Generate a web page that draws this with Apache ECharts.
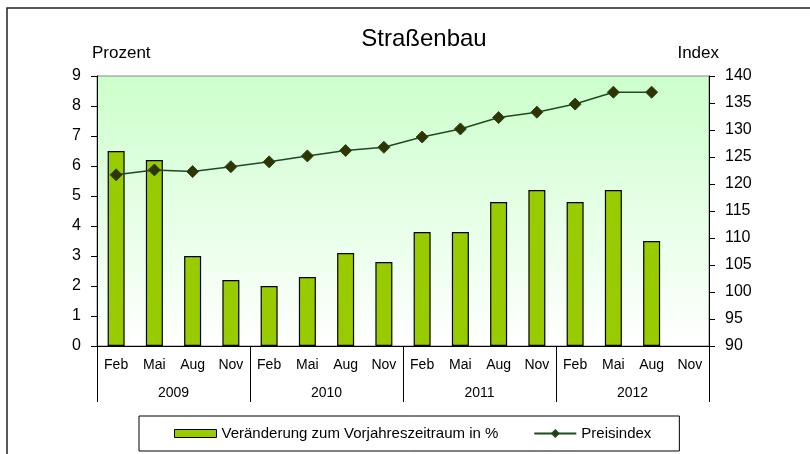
<!DOCTYPE html>
<html>
<head>
<meta charset="UTF-8"/>
<title>Straßenbau</title>
<script src="https://cdn.jsdelivr.net/npm/echarts@6/dist/echarts.min.js"></script>
</head>
<body style="margin:0;background:#fff;">
<div id="chart" style="width:810px;height:454px;"></div>
<script>
var months = ['Feb','Mai','Aug','Nov','Feb','Mai','Aug','Nov','Feb','Mai','Aug','Nov','Feb','Mai','Aug','Nov'];
var years = ['2009','2010','2011','2012'];
var changePct = [6.5, 6.2, 3.0, 2.2, 2.0, 2.3, 3.1, 2.8, 3.8, 3.8, 4.8, 5.2, 4.8, 5.2, 3.5, null];
var priceIndex = [121.7, 122.6, 122.3, 123.2, 124.1, 125.2, 126.2, 126.8, 128.7, 130.2, 132.3, 133.3, 134.8, 137.0, 137.0, null];

var myChart = echarts.init(document.getElementById('chart'));
var font = 'Liberation Sans, Arial, sans-serif';

var option = {
    animation: false,
    textStyle: {fontFamily: font, color: '#000'},
    title: {
        text: 'Straßenbau',
        left: 419,
        top: 22,
        textAlign: 'center',
        textStyle: {fontFamily: font, fontSize: 24, fontWeight: 'normal', color: '#000'}
    },
    // chart frame: only the top and left edges are visible in the picture
    graphic: [{
        type: 'rect',
        shape: {x: 7, y: 8, width: 830, height: 470},
        style: {fill: 'none', stroke: '#222', lineWidth: 1.5},
        silent: true
    }],
    grid: {
        left: 97, right: 101, top: 76, height: 270,
        show: true,
        borderColor: '#888',
        borderWidth: 1,
        backgroundColor: new echarts.graphic.LinearGradient(0, 0, 0, 1, [
            {offset: 0, color: '#ccffcc'},
            {offset: 1, color: '#ffffff'}
        ])
    },
    legend: {
        left: 139,
        top: 416,
        padding: [10, 28, 10, 35],
        itemGap: 35,
        itemWidth: 42,
        itemHeight: 8,
        borderColor: '#000',
        borderWidth: 1,
        textStyle: {fontFamily: font, fontSize: 15, color: '#000'},
        data: [
            {name: 'Veränderung zum Vorjahreszeitraum in %', icon: 'rect', itemStyle: {borderColor: '#000', borderWidth: 1}},
            {name: 'Preisindex'}
        ]
    },
    xAxis: [{
        type: 'category',
        data: months,
        position: 'bottom',
        axisLine: {lineStyle: {color: '#000', width: 1}},
        axisTick: {show: false},
        axisLabel: {margin: 12, fontSize: 14, color: '#000', interval: 0}
    }, {
        type: 'category',
        data: years,
        position: 'bottom',
        axisLine: {show: false},
        axisTick: {show: true, length: 56, lineStyle: {color: '#000', width: 1}},
        axisLabel: {margin: 40, fontSize: 14, color: '#000', interval: 0}
    }],
    yAxis: [{
        type: 'value',
        min: 0, max: 9, interval: 1,
        name: 'Prozent',
        nameLocation: 'end',
        nameGap: 14,
        nameTextStyle: {fontSize: 17, color: '#000', align: 'left', padding: [0, 0, 0, -5]},
        axisLine: {show: true, lineStyle: {color: '#000'}},
        axisTick: {show: true, length: 6, lineStyle: {color: '#000'}},
        axisLabel: {fontSize: 16, color: '#000', margin: 16},
        splitLine: {show: false}
    }, {
        type: 'value',
        min: 90, max: 140, interval: 5,
        name: 'Index',
        nameLocation: 'end',
        nameGap: 14,
        nameTextStyle: {fontSize: 17, color: '#000', align: 'right', padding: [0, -10, 0, 0]},
        axisLine: {show: true, lineStyle: {color: '#000'}},
        axisTick: {show: true, length: 6, lineStyle: {color: '#000'}},
        axisLabel: {fontSize: 16, color: '#000', margin: 16},
        splitLine: {show: false}
    }],
    series: [{
        name: 'Veränderung zum Vorjahreszeitraum in %',
        type: 'bar',
        xAxisIndex: 0,
        yAxisIndex: 0,
        barWidth: 17,
        itemStyle: {color: '#99cc00', borderColor: '#000', borderWidth: 1.2},
        data: changePct
    }, {
        name: 'Preisindex',
        type: 'line',
        xAxisIndex: 0,
        yAxisIndex: 1,
        symbol: 'diamond',
        symbolSize: 12,
        lineStyle: {color: '#1f4a1f', width: 1.5},
        itemStyle: {color: '#333300', borderColor: '#1f4a1f', borderWidth: 1},
        data: priceIndex
    }]
};
myChart.setOption(option);
</script>
</body>
</html>
